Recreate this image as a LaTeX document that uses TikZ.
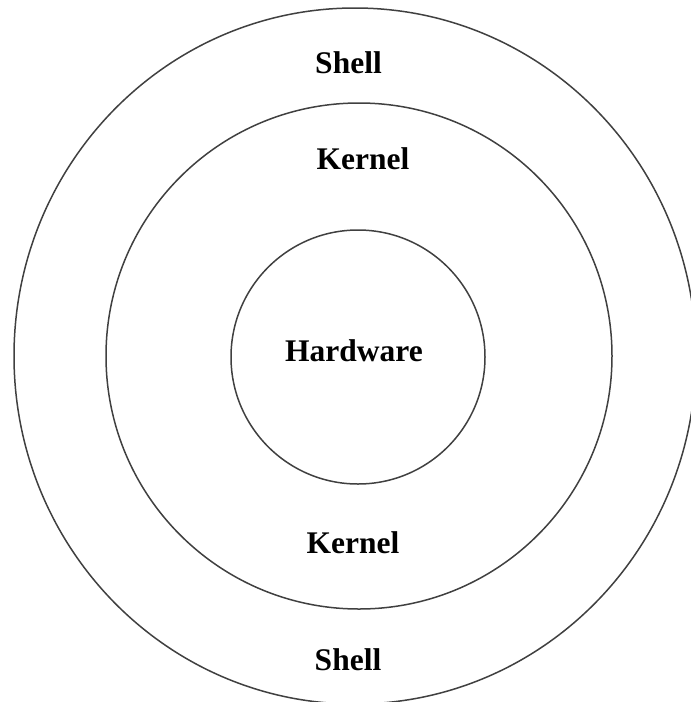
\documentclass[tikz,border=0pt]{standalone}
\usepackage{fontspec}
\setmainfont{Liberation Serif}
\usepackage{tikz}
\usetikzlibrary{positioning}

\begin{document}
\begin{tikzpicture}[x=1pt, y=-1pt,
    ring/.style={draw=black!75, line width=1.5pt},
    layer/.style={font=\fontsize{31.5}{32}\selectfont\bfseries, inner sep=0pt}]
  \useasboundingbox (0,0) rectangle (691,702);
  \coordinate (c0) at (355,356);
  \coordinate (c1) at (359,356);
  \coordinate (c2) at (358,357);
  \draw[ring] (c0) ellipse [x radius=341, y radius=348];
  \draw[ring] (c1) circle [radius=253];
  \draw[ring] (c2) circle [radius=127];
  \node[layer] (shelltop) at (348.5,63) {Shell};
  \node[layer] (kerneltop) at (363,159) {Kernel};
  \node[layer] (hw) at (354,351) {Hardware};
  \node[layer] (kernelbot) at (353,543) {Kernel};
  \node[layer] (shellbot) at (348,660) {Shell};
\end{tikzpicture}
\end{document}
